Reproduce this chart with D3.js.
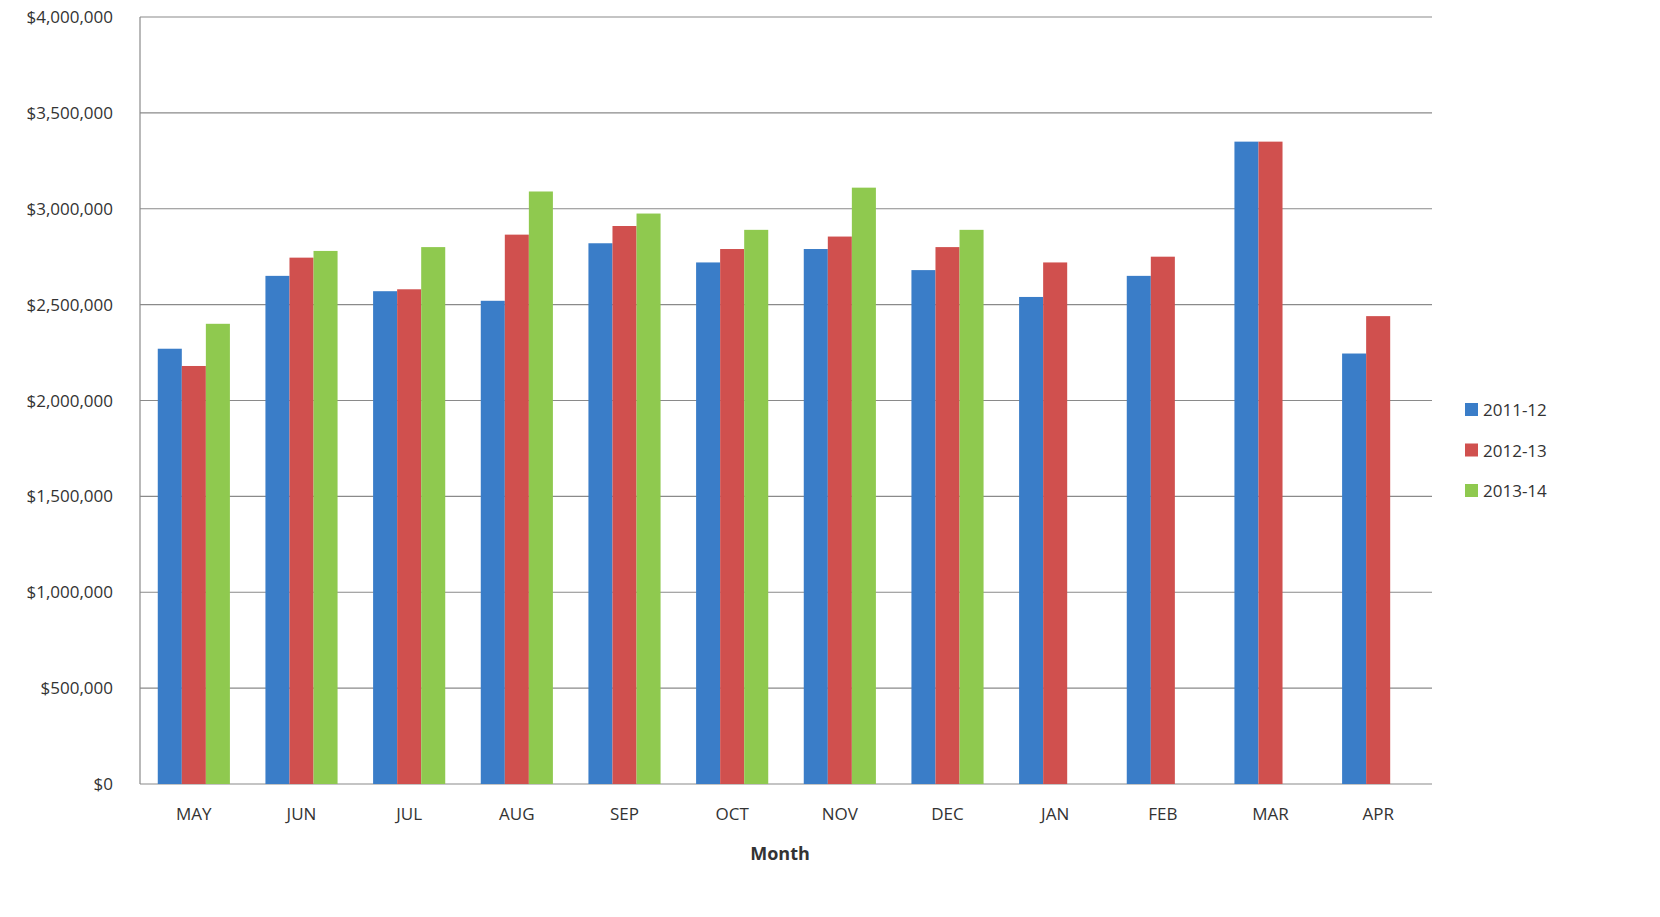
<!DOCTYPE html>
<html><head><meta charset="utf-8">
<script src="https://cdn.jsdelivr.net/npm/d3@7"></script>
<style>body{margin:0;background:#fff;font-family:"Open Sans",sans-serif;}</style>
</head><body><svg id="c" width="1660" height="917"></svg>
<script>
const months=["MAY","JUN","JUL","AUG","SEP","OCT","NOV","DEC","JAN","FEB","MAR","APR"];
const series=["2011-12","2012-13","2013-14"];
const s2011=[2270000,2650000,2570000,2520000,2820000,2720000,2790000,2680000,2540000,2650000,3350000,2245000];
const s2012=[2180000,2745000,2580000,2865000,2910000,2790000,2855000,2800000,2720000,2750000,3350000,2440000];
const s2013=[2400000,2780000,2800000,3090000,2975000,2890000,3110000,2890000,null,null,null,null];
const ticks=[0,500000,1000000,1500000,2000000,2500000,3000000,3500000,4000000];
const colors=["#3a7dc8","#d0504e","#8fc94f"];
const data=[s2011,s2012,s2013];
const svg=d3.select("#c");
const L=140,R=1432,T=17,B=784;
const x=d3.scaleBand().domain(months).range([L,R]).paddingInner(0.33).paddingOuter(0.165);
const xs=d3.scaleBand().domain(series).range([0,x.bandwidth()]);
const y=d3.scaleLinear().domain([0,4000000]).range([B,T]);
svg.append("g").selectAll("line").data(ticks).join("line")
 .attr("x1",L).attr("x2",R).attr("y1",d=>y(d)).attr("y2",d=>y(d)).attr("stroke","#8a8a8a").attr("stroke-width",1.2);
svg.append("line").attr("x1",L).attr("x2",L).attr("y1",T).attr("y2",B).attr("stroke","#8a8a8a").attr("stroke-width",1.2);
const fmt=d3.format("$,");
svg.append("g").selectAll("text").data(ticks).join("text")
 .attr("x",113).attr("y",d=>y(d)+6).attr("text-anchor","end").attr("font-size",17).attr("fill","#333").text(d=>fmt(d));
data.forEach((arr,i)=>{
 svg.append("g").selectAll("rect").data(months.map((m,j)=>({m,v:arr[j]})).filter(d=>d.v!=null)).join("rect")
  .attr("x",d=>x(d.m)+xs(series[i])).attr("width",xs.bandwidth())
  .attr("y",d=>y(d.v)).attr("height",d=>B-y(d.v)).attr("fill",colors[i]);
});
svg.append("g").selectAll("text").data(months).join("text")
 .attr("x",d=>x(d)+x.bandwidth()/2).attr("y",820).attr("text-anchor","middle").attr("font-size",17).attr("fill","#333").text(d=>d);
svg.append("text").attr("x",780).attr("y",860).attr("text-anchor","middle").attr("font-size",18).attr("font-weight","bold").attr("fill","#333").text("Month");
series.forEach((s,i)=>{
 const yy=410+i*40.5;
 svg.append("rect").attr("x",1465).attr("y",yy-7).attr("width",13).attr("height",13).attr("fill",colors[i]);
 svg.append("text").attr("x",1483).attr("y",yy+6).attr("font-size",17).attr("fill","#333").text(s);
});
</script></body></html>
